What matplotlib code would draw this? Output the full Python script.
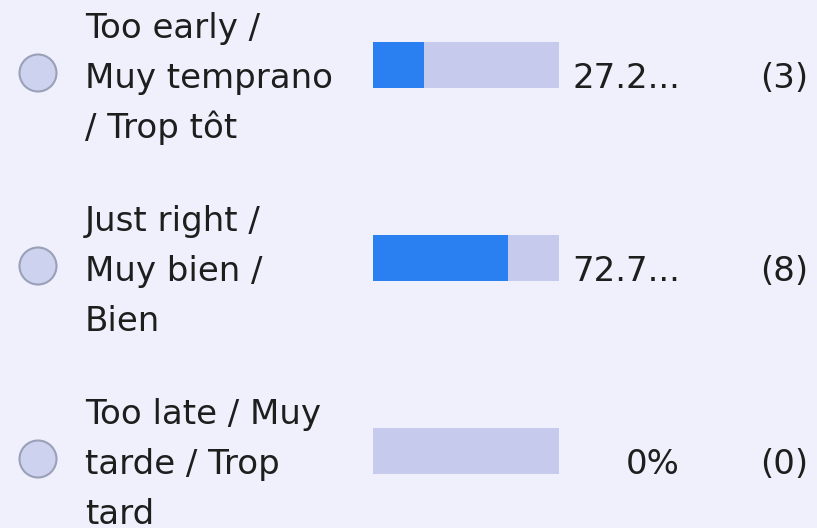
import matplotlib.pyplot as plt
from matplotlib.patches import Circle

labels = [
    ["Too early /", "Muy temprano", "/ Trop tôt"],
    ["Just right /", "Muy bien /", "Bien"],
    ["Too late / Muy", "tarde / Trop", "tard"],
]
percents = [27.27, 72.73, 0.0]
pct_text = ["27.2...", "72.7...", "0%"]
counts = [3, 8, 0]

bg = "#f0f0fc"
blue = "#2a80f0"
track = "#c6cbee"

plt.rcParams['font.family'] = ['DejaVu Sans']

fig = plt.figure(figsize=(8.17, 5.28), dpi=100, facecolor=bg)
ax = fig.add_axes([0, 0, 1, 1])
ax.set_facecolor(bg)
ax.set_xlim(0, 817)
ax.set_ylim(528, 0)
ax.axis('off')

row_gap = 193
fs = 24.5

for i, lines in enumerate(labels):
    cy = 73 + i * row_gap          # radio centre
    by = 65 + i * row_gap          # bar centre
    base = cy + 15                 # baseline of middle line

    ax.add_patch(Circle((38, cy), 18.5, facecolor="#cdd2ee", edgecolor="#9aa0b8", lw=1.5))

    for j, line in enumerate(lines):
        ax.text(85, base + (j - 1) * 50, line, fontsize=fs, color="#1e1e1e",
                ha='left', va='baseline')

    ax.barh(by, 186, left=373, height=46, color=track)
    ax.barh(by, 186 * percents[i] / 100, left=373, height=46, color=blue)

    ax.text(680, base, pct_text[i], fontsize=fs, color="#1e1e1e", ha='right', va='baseline')
    ax.text(808, base, f"({counts[i]})", fontsize=fs, color="#1e1e1e", ha='right', va='baseline')

fig.savefig("out.png", dpi=100, facecolor=bg)
